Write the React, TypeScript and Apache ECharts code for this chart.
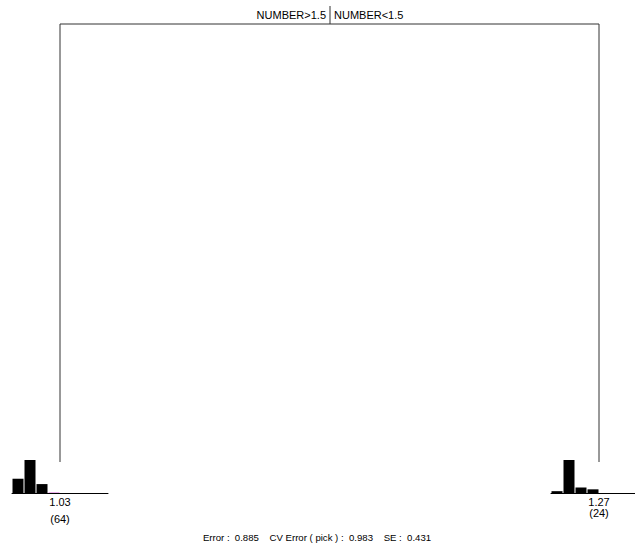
import React, { useEffect, useRef } from "react";
import * as echarts from "echarts";

// Split labels
const splitLabels = ["NUMBER>1.5", "NUMBER<1.5"];
// Leaf summaries
const leafMeans = ["1.03", "1.27"];
const leafCounts = [64, 24];
// Leaf histograms (counts per bin)
const leftBins = ["b1", "b2", "b3", "b4", "b5", "b6", "b7", "b8"];
const leftHist = [16, 37, 10, 1, 0, 0, 0, 0];
const rightBins = ["b1", "b2", "b3", "b4", "b5", "b6", "b7"];
const rightHist = [1, 18, 3, 2, 0, 0, 0];
// Fit statistics
const errorValue = 0.885;
const cvError = 0.983;
const seValue = 0.431;

const FONT = "Liberation Sans, Arial, sans-serif";

export default function App() {
  const ref = useRef<HTMLDivElement>(null);
  useEffect(() => {
    if (!ref.current) return;
    const chart = echarts.init(ref.current, undefined, { renderer: "svg" });
    const leftX = 60;
    const rightX = 599;
    const topY = 24;
    const stemBottom = 462;
    const histTop = 460;
    const histH = 33;

    const barData = (vals: number[], pinkIdx: number) =>
      vals.map((v, i) => ({
        value: v,
        itemStyle: {
          color: i === pinkIdx ? "#e9a6e9" : "#000",
        },
      }));

    const axisCommon = {
      type: "category" as const,
      axisTick: { show: false },
      axisLabel: { show: false },
      axisLine: { show: true, lineStyle: { color: "#000", width: 1 } },
      splitLine: { show: false },
    };

    chart.setOption({
      animation: false,
      grid: [
        { left: 12, top: histTop, width: 96, height: histH },
        { left: 551, top: histTop, width: 84, height: histH },
      ],
      xAxis: [
        { ...axisCommon, gridIndex: 0, data: leftBins },
        { ...axisCommon, gridIndex: 1, data: rightBins },
      ],
      yAxis: [
        { type: "value", gridIndex: 0, min: 0, max: "dataMax", show: false },
        { type: "value", gridIndex: 1, min: 0, max: "dataMax", show: false },
      ],
      series: [
        {
          type: "bar",
          xAxisIndex: 0,
          yAxisIndex: 0,
          barWidth: 11,
          barMinHeight: 0,
          data: barData(leftHist, 3),
        },
        {
          type: "bar",
          xAxisIndex: 1,
          yAxisIndex: 1,
          barWidth: 11,
          data: barData(rightHist, -1),
        },
      ],
      graphic: [
        {
          type: "polyline",
          shape: {
            points: [
              [leftX, stemBottom],
              [leftX, topY],
              [rightX, topY],
              [rightX, stemBottom],
            ],
          },
          style: { stroke: "#333", lineWidth: 1, fill: null },
        },
        {
          type: "line",
          shape: { x1: 330, y1: 6, x2: 330, y2: topY },
          style: { stroke: "#333", lineWidth: 1 },
        },
        {
          type: "text",
          x: 326,
          y: 15,
          style: {
            text: splitLabels[0],
            font: `11px ${FONT}`,
            fill: "#000",
            align: "right",
            verticalAlign: "middle",
          },
        },
        {
          type: "text",
          x: 334,
          y: 15,
          style: {
            text: splitLabels[1],
            font: `11px ${FONT}`,
            fill: "#000",
            align: "left",
            verticalAlign: "middle",
          },
        },
        {
          type: "text",
          x: leftX,
          y: 502,
          style: {
            text: leafMeans[0],
            font: `11px ${FONT}`,
            fill: "#000",
            align: "center",
            verticalAlign: "middle",
          },
        },
        {
          type: "text",
          x: leftX,
          y: 519,
          style: {
            text: `(${leafCounts[0]})`,
            font: `11px ${FONT}`,
            fill: "#000",
            align: "center",
            verticalAlign: "middle",
          },
        },
        {
          type: "text",
          x: rightX,
          y: 502,
          style: {
            text: leafMeans[1],
            font: `11px ${FONT}`,
            fill: "#000",
            align: "center",
            verticalAlign: "middle",
          },
        },
        {
          type: "text",
          x: rightX,
          y: 513,
          style: {
            text: `(${leafCounts[1]})`,
            font: `11px ${FONT}`,
            fill: "#000",
            align: "center",
            verticalAlign: "middle",
          },
        },
        {
          type: "text",
          x: 317,
          y: 537,
          style: {
            text: `Error :  ${errorValue.toFixed(3)}    CV Error ( pick ) :  ${cvError.toFixed(3)}    SE :  ${seValue.toFixed(3)}`,
            font: `9.6px ${FONT}`,
            fill: "#000",
            align: "center",
            verticalAlign: "middle",
          },
        },
      ],
    });
    return () => chart.dispose();
  }, []);
  return (
    <div
      ref={ref}
      style={{ position: "fixed", left: 0, top: 0, width: 635, height: 544, background: "#fff" }}
    />
  );
}
